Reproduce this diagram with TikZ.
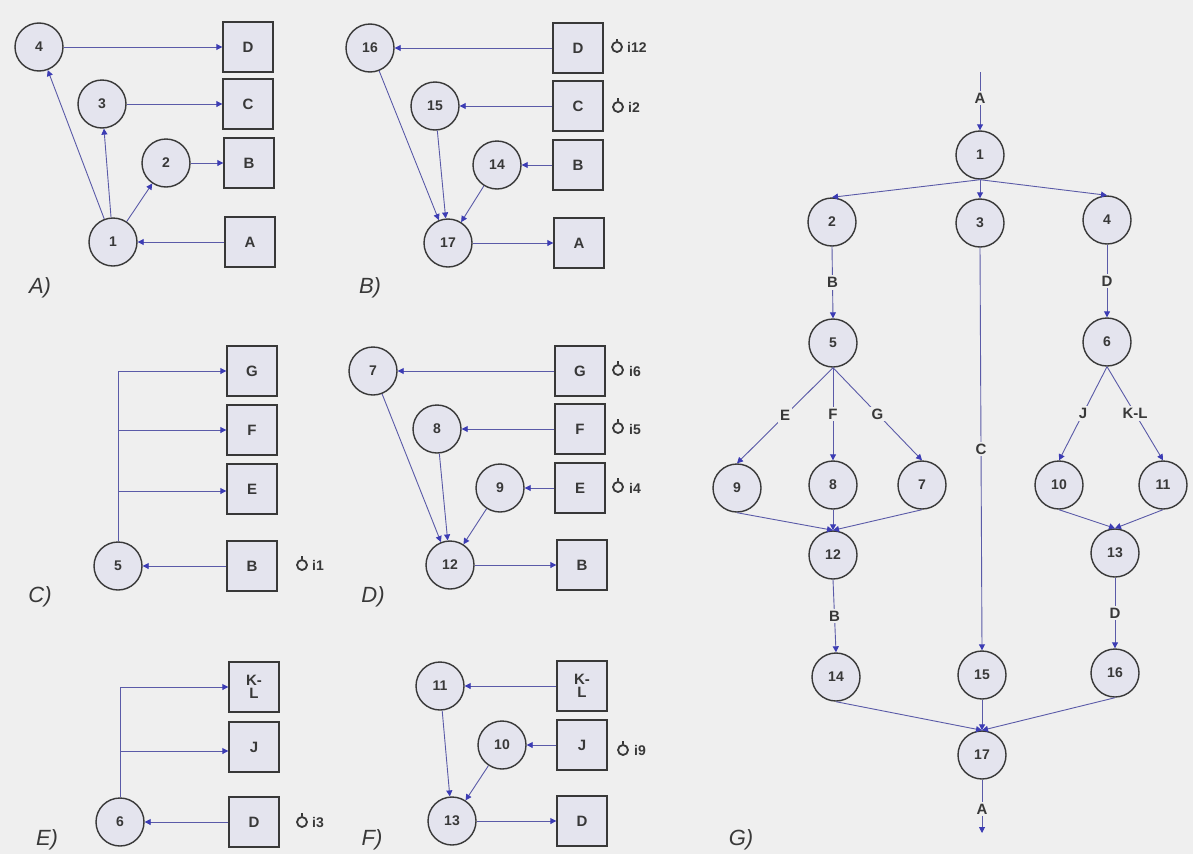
\documentclass[tikz,border=0pt]{standalone}
\usepackage{fontspec}
\setmainfont{Liberation Sans}
\usetikzlibrary{arrows.meta}
\definecolor{bg}{HTML}{EFEFEF}
\definecolor{nfill}{HTML}{E4E4EE}
\definecolor{ndraw}{HTML}{383838}
\definecolor{edgec}{HTML}{5A5AA8}
\definecolor{tipc}{HTML}{3C3CB4}
\begin{document}
\begin{tikzpicture}[x=1pt,y=-1pt,
  cnode/.style={circle,draw=ndraw,fill=nfill,line width=1.4pt,minimum size=48pt,inner sep=0pt,text=ndraw,font=\fontsize{14}{16}\selectfont\bfseries},
  bnode/.style={rectangle,draw=ndraw,fill=nfill,line width=1.4pt,minimum size=50pt,inner sep=0pt,text=ndraw,align=center,font=\fontsize{15}{15}\selectfont\bfseries},
  conn/.style={draw=edgec,line width=0.9pt,-{Triangle[length=6pt,width=6pt,color=tipc]}},
  plabel/.style={font=\fontsize{22}{24}\selectfont\itshape,text=ndraw},
  elabel/.style={fill=bg,inner sep=2pt,text=ndraw,font=\fontsize{15}{16}\selectfont\bfseries},
  mark ring/.style={circle,draw=ndraw,line width=1.8pt,minimum size=10pt,inner sep=0pt},
  mtext/.style={anchor=west,inner sep=1pt,text=ndraw,font=\fontsize{14}{16}\selectfont\bfseries}
]
\fill[bg] (0,0) rectangle (1193,854);
\useasboundingbox (0,0) rectangle (1193,854);

% ---------- Panel A ----------
\node[cnode] (a4) at (39,47) {4};
\node[cnode] (a3) at (102,104) {3};
\node[cnode] (a2) at (166,163) {2};
\node[cnode] (a1) at (113,242) {1};
\node[bnode] (aD) at (248,47) {D};
\node[bnode] (aC) at (248,104) {C};
\node[bnode] (aB) at (249,163) {B};
\node[bnode] (aA) at (250,242) {A};
\draw[conn] (a4) -- (aD);
\draw[conn] (a3) -- (aC);
\draw[conn] (a2) -- (aB);
\draw[conn] (aA) -- (a1);
\draw[conn] (a1) -- (a4);
\draw[conn] (a1) -- (a3);
\draw[conn] (a1) -- (a2);
\node[plabel] (la) at (40,288) {A)};

% ---------- Panel B ----------
\node[cnode] (b16) at (370,48) {16};
\node[cnode] (b15) at (435,106) {15};
\node[cnode] (b14) at (497,165) {14};
\node[cnode] (b17) at (448,243) {17};
\node[bnode] (bD) at (578,48) {D};
\node[bnode] (bC) at (578,106) {C};
\node[bnode] (bB) at (578,165) {B};
\node[bnode] (bA) at (579,243) {A};
\draw[conn] (bD) -- (b16);
\draw[conn] (bC) -- (b15);
\draw[conn] (bB) -- (b14);
\draw[conn] (b16) -- (b17);
\draw[conn] (b15) -- (b17);
\draw[conn] (b14) -- (b17);
\draw[conn] (b17) -- (bA);
\node[mark ring] (bm1) at (617,47) {};
\draw[ndraw,line width=1.2pt] (bm1.north) -- ++(0,-2);
\node[mtext] (bt1) at (626,47) {i12};
\node[mark ring] (bm2) at (618,107) {};
\draw[ndraw,line width=1.2pt] (bm2.north) -- ++(0,-3);
\node[mtext] (bt2) at (627,107) {i2};
\node[plabel] (lb) at (370,288) {B)};

% ---------- Panel C ----------
\node[cnode] (c5) at (118,566) {5};
\node[bnode] (cG) at (252,371) {G};
\node[bnode] (cF) at (252,430) {F};
\node[bnode] (cE) at (252,489) {E};
\node[bnode] (cB) at (252,566) {B};
\draw[conn] (cB) -- (c5);
\draw[conn] (c5.north) |- (cG.west);
\draw[conn] (c5.north) |- (cF.west);
\draw[conn] (c5.north) |- ([yshift=-2pt]cE.west);
\node[mark ring] (cm1) at (302,565) {};
\draw[ndraw,line width=1.2pt] (cm1.north) -- ++(0,-3);
\node[mtext] (ct1) at (311,565) {i1};
\node[plabel] (lc) at (40,597) {C)};

% ---------- Panel D ----------
\node[cnode] (d7) at (373,371) {7};
\node[cnode] (d8) at (437,429) {8};
\node[cnode] (d9) at (500,488) {9};
\node[cnode] (d12) at (450,565) {12};
\node[bnode] (dG) at (580,371) {G};
\node[bnode] (dF) at (580,429) {F};
\node[bnode] (dE) at (580,488) {E};
\node[bnode] (dB) at (582,565) {B};
\draw[conn] (dG) -- (d7);
\draw[conn] (dF) -- (d8);
\draw[conn] (dE) -- (d9);
\draw[conn] (d7) -- (d12);
\draw[conn] (d8) -- (d12);
\draw[conn] (d9) -- (d12);
\draw[conn] (d12) -- (dB);
\node[mark ring] (dm1) at (618,370) {};
\draw[ndraw,line width=1.2pt] (dm1.north) -- ++(0,-3);
\node[mtext] (dt1) at (628,371) {i6};
\node[mark ring] (dm2) at (618,428) {};
\draw[ndraw,line width=1.2pt] (dm2.north) -- ++(0,-3);
\node[mtext] (dt2) at (628,429) {i5};
\node[mark ring] (dm3) at (618,487) {};
\draw[ndraw,line width=1.2pt] (dm3.north) -- ++(0,-3);
\node[mtext] (dt3) at (628,488) {i4};
\node[plabel] (ld) at (373,597) {D)};

% ---------- Panel E ----------
\node[cnode] (e6) at (120,822) {6};
\node[bnode] (eKL) at (254,687) {K-\\[-2pt]L};
\node[bnode] (eJ) at (254,747) {J};
\node[bnode] (eD) at (254,822) {D};
\draw[conn] (eD) -- (e6);
\draw[conn] (e6.north) |- (eKL.west);
\draw[conn] (e6.north) |- ([yshift=-4pt]eJ.west);
\node[mark ring] (em1) at (302,822) {};
\draw[ndraw,line width=1.2pt] (em1.north) -- ++(0,-3);
\node[mtext] (et1) at (311,822) {i3};
\node[plabel] (le) at (47,840) {E)};

% ---------- Panel F ----------
\node[cnode] (f11) at (440,686) {11};
\node[cnode] (f10) at (502,745) {10};
\node[cnode] (f13) at (452,821) {13};
\node[bnode] (fKL) at (582,686) {K-\\[-2pt]L};
\node[bnode] (fJ) at (582,745) {J};
\node[bnode] (fD) at (582,821) {D};
\draw[conn] (fKL) -- (f11);
\draw[conn] (fJ) -- (f10);
\draw[conn] (f11) -- (f13);
\draw[conn] (f10) -- (f13);
\draw[conn] (f13) -- (fD);
\node[mark ring] (fm1) at (623,750) {};
\draw[ndraw,line width=1.2pt] (fm1.north) -- ++(0,-3);
\node[mtext] (ft1) at (633,750) {i9};
\node[plabel] (lf) at (372,840) {F)};

% ---------- Panel G ----------
\node[cnode] (g1) at (980,155) {1};
\node[cnode] (g2) at (832,222) {2};
\node[cnode] (g3) at (980,223) {3};
\node[cnode] (g4) at (1107,220) {4};
\node[cnode] (g5) at (833,343) {5};
\node[cnode] (g6) at (1107,342) {6};
\node[cnode] (g9) at (737,488) {9};
\node[cnode] (g8) at (833,485) {8};
\node[cnode] (g7) at (922,485) {7};
\node[cnode] (g10) at (1059,485) {10};
\node[cnode] (g11) at (1163,485) {11};
\node[cnode] (g12) at (833,555) {12};
\node[cnode] (g13) at (1115,553) {13};
\node[cnode] (g14) at (836,677) {14};
\node[cnode] (g15) at (982,675) {15};
\node[cnode] (g16) at (1115,673) {16};
\node[cnode] (g17) at (982,755) {17};
\coordinate (gtop) at (980,72);
\coordinate (gbot) at (982,833);
\draw[conn] (gtop) -- node[elabel,pos=0.45]{A} (g1.north);
\draw[conn] (g1.south) -- (g2.north);
\draw[conn] (g1.south) -- (g3.north);
\draw[conn] (g1.south) -- (g4.north);
\draw[conn] (g2.south) -- node[elabel]{B} (g5.north);
\draw[conn] (g4.south) -- node[elabel]{D} (g6.north);
\draw[conn] (g3.south) -- node[elabel]{C} (g15.north);
\draw[conn] (g5.south) -- node[elabel]{E} (g9.north);
\draw[conn] (g5.south) -- node[elabel]{F} (g8.north);
\draw[conn] (g5.south) -- node[elabel]{G} (g7.north);
\draw[conn] (g6.south) -- node[elabel]{J} (g10.north);
\draw[conn] (g6.south) -- node[elabel]{K-L} (g11.north);
\draw[conn] (g9.south) -- (g12.north);
\draw[conn] (g8.south) -- (g12.north);
\draw[conn] (g7.south) -- (g12.north);
\draw[conn] (g10.south) -- (g13.north);
\draw[conn] (g11.south) -- (g13.north);
\draw[conn] (g12.south) -- node[elabel]{B} (g14.north);
\draw[conn] (g13.south) -- node[elabel]{D} (g16.north);
\draw[conn] (g14.south) -- (g17.north);
\draw[conn] (g15.south) -- (g17.north);
\draw[conn] (g16.south) -- (g17.north);
\draw[conn] (g17.south) -- node[elabel,pos=0.55]{A} (gbot);
\node[plabel] (lg) at (741,840) {G)};
\end{tikzpicture}
\end{document}
